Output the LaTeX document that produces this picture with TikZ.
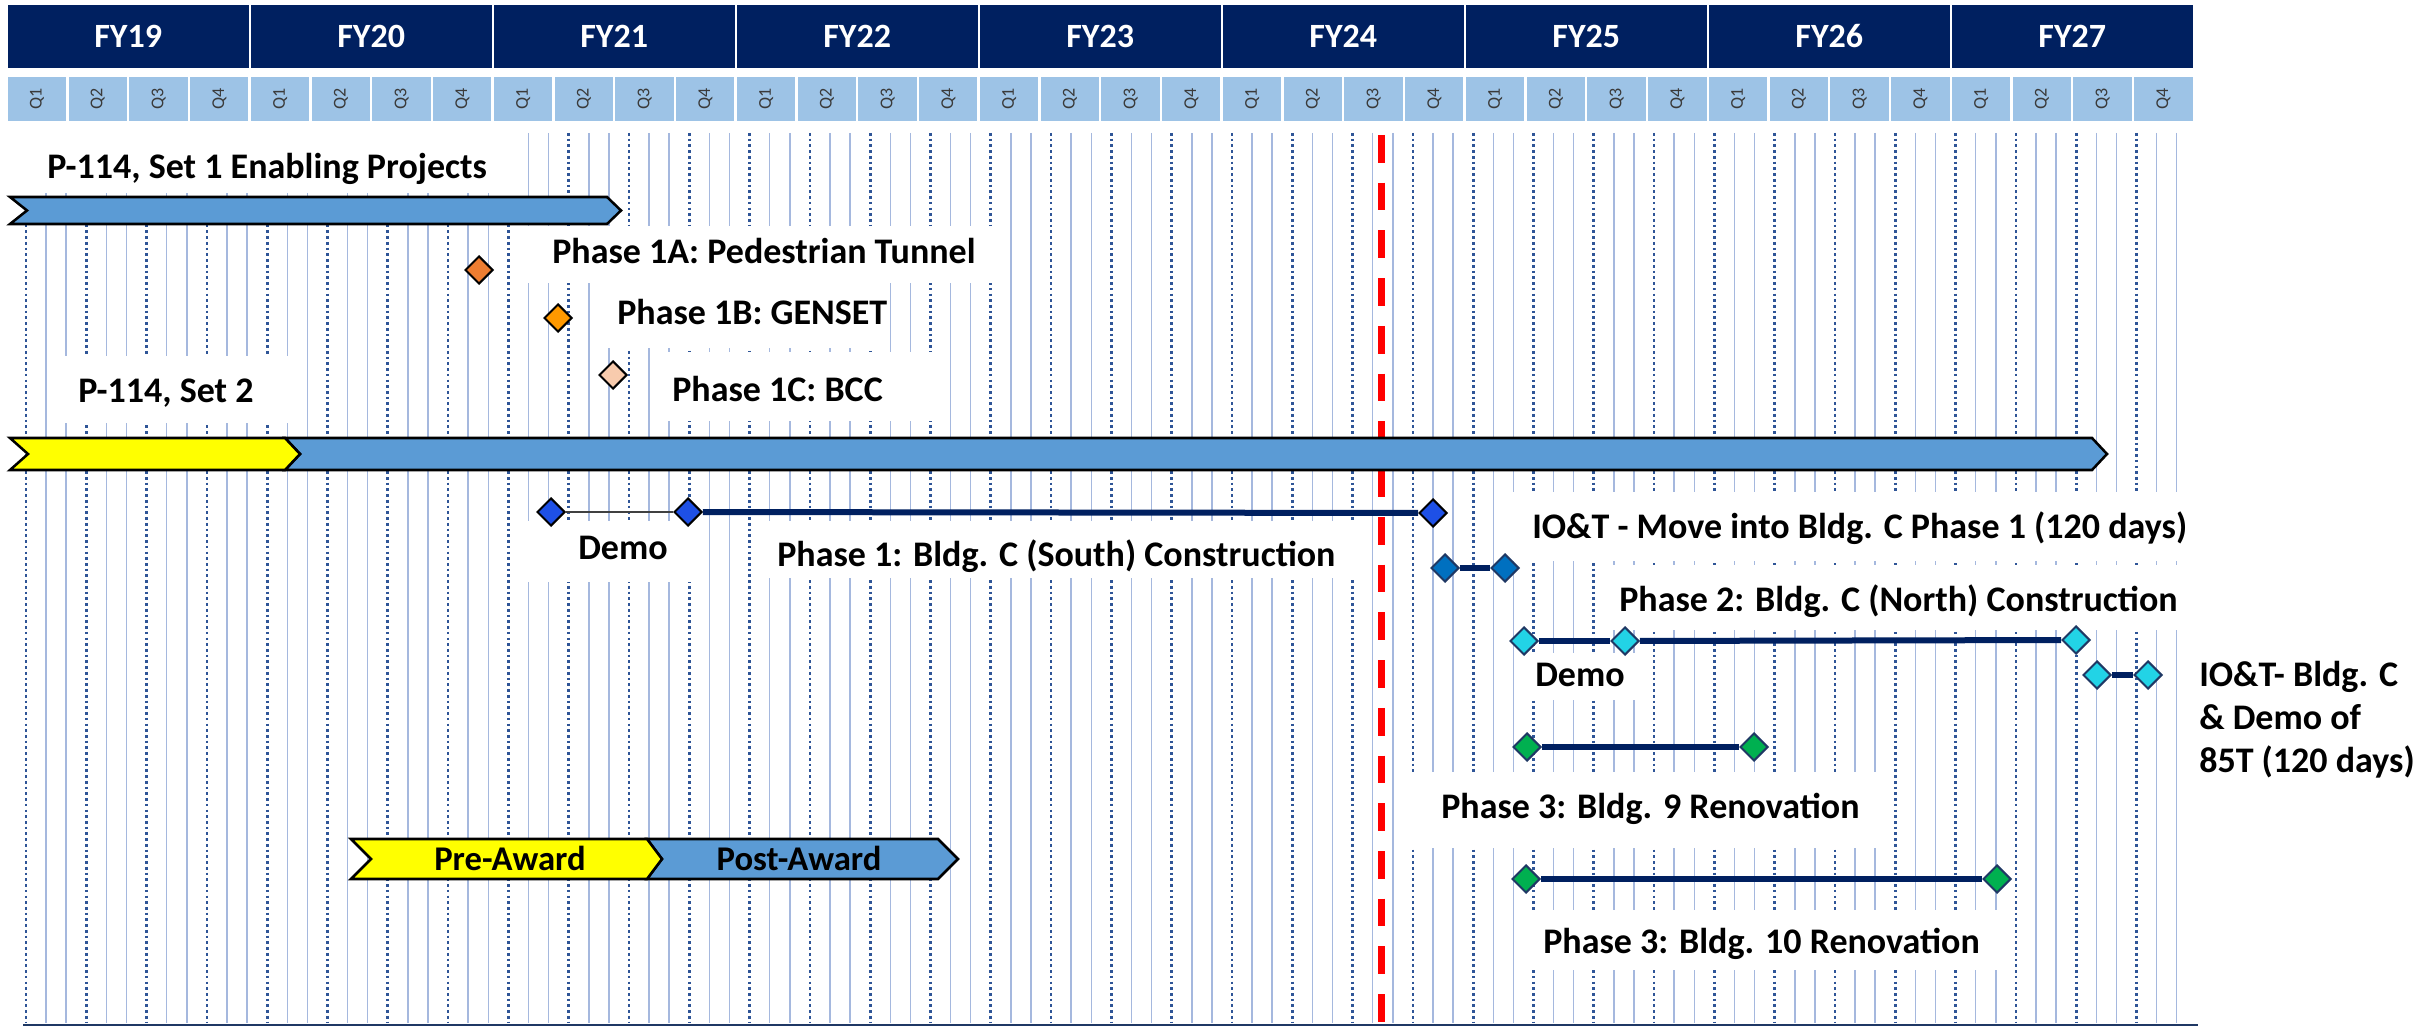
\documentclass[tikz,border=0pt]{standalone}
\usepackage{fontspec}
\setmainfont{Carlito}
\usetikzlibrary{shapes.geometric}

\definecolor{fyNavy}{RGB}{0,32,96}
\definecolor{qBlue}{RGB}{157,195,230}
\definecolor{qText}{RGB}{58,58,58}
\definecolor{gridSolid}{RGB}{165,184,222}
\definecolor{gridDot}{RGB}{47,85,151}
\definecolor{barBlue}{RGB}{91,155,213}
\definecolor{barYellow}{RGB}{255,255,0}
\definecolor{linkNavy}{RGB}{0,32,96}
\definecolor{linkGray}{RGB}{64,64,64}
\definecolor{todayRed}{RGB}{255,0,0}
\definecolor{msOrange}{RGB}{237,125,49}
\definecolor{msAmber}{RGB}{255,153,0}
\definecolor{msPeach}{RGB}{248,203,173}
\definecolor{msRoyal}{RGB}{30,80,230}
\definecolor{msMid}{RGB}{0,112,192}
\definecolor{msCyan}{RGB}{34,211,230}
\definecolor{msGreen}{RGB}{0,176,80}
\definecolor{msEdge}{RGB}{31,56,100}
\definecolor{baseNavy}{RGB}{31,56,100}

\begin{document}
\begin{tikzpicture}[x=0.75pt,y=-0.75pt,
  fycell/.style={rectangle, fill=fyNavy, inner sep=0, minimum width=180.4pt, minimum height=47.25pt,
    text=white, font=\fontsize{25.5}{30}\selectfont\bfseries},
  qcell/.style={rectangle, fill=qBlue, inner sep=0, rotate=90, minimum width=33pt, minimum height=43.7pt,
    text=qText, font=\fontsize{13.5}{16}\selectfont},
  gridline/.style={draw=gridSolid, line width=1.1pt},
  griddots/.style={draw=gridDot, line width=2pt, dash pattern=on 2pt off 2.3pt},
  labelbg/.style={fill=white},
  lbl/.style={anchor=west, inner sep=0, font=\fontsize{27}{32}\selectfont\bfseries,
    text height=17.4pt, text depth=0pt},
  barlbl/.style={anchor=center, inner sep=0, font=\fontsize{26}{31}\selectfont\bfseries,
    text height=16.7pt, text depth=0pt},
  chevron/.style={draw=black, line width=1.9pt, line join=miter},
  ms/.style={diamond, draw=black, line width=1.5pt, inner sep=0, minimum width=21pt, minimum height=21pt},
  msn/.style={ms, draw=msEdge},
  link/.style={draw=linkNavy, line width=4.5pt},
  thinlink/.style={draw=linkGray, line width=1.5pt},
  today/.style={draw=todayRed, line width=5.25pt, dash pattern=on 20.8pt off 15pt}
]
\useasboundingbox (0,0) rectangle (2425,1027);

% fiscal-year header
\foreach \i/\lab in {0/FY19,1/FY20,2/FY21,3/FY22,4/FY23,5/FY24,6/FY25,7/FY26,8/FY27} {
  \node[fycell] (fy\i) at ({8+243*\i+120.25},36.5) {\lab};
}
% quarter header
\foreach \j in {0,...,35} {
  \pgfmathtruncatemacro\qn{mod(\j,4)+1}
  \node[qcell] (q\j) at ({8+60.75*\j+29.1},99) {Q\qn};
}

% monthly grid: every third line dotted
\foreach \m in {0,...,107} {
  \pgfmathsetmacro\gx{26+20.1*\m}
  \pgfmathtruncatemacro\r{mod(\m,3)}
  \ifnum\r=0
    \draw[griddots] (\gx,133) -- (\gx,1023);
  \else
    \draw[gridline] (\gx,133) -- (\gx,1023);
  \fi
}

% white backgrounds of the text boxes
\fill[labelbg] (0,131) rectangle (522,193);
\fill[labelbg] (520,226) rectangle (1000,283);
\fill[labelbg] (600,283) rectangle (880,348);
\fill[labelbg] (660,352) rectangle (932,421);
\fill[labelbg] (56,356) rectangle (296,423);
\fill[labelbg] (520,521) rectangle (702,582);
\fill[labelbg] (765,521) rectangle (1362,578);
\fill[labelbg] (1500,492) rectangle (2190,561);
\fill[labelbg] (1602,565) rectangle (2190,630);
\fill[labelbg] (1525,653) rectangle (1645,700);
\fill[labelbg] (1395,772) rectangle (1885,848);
\fill[labelbg] (1520,910) rectangle (2008,970);

% status date
\coordinate (todayTop) at (1381,135);
\coordinate (todayBot) at (1381,1027);
\draw[today] (todayTop) -- (todayBot);

% P-114, Set 1
\filldraw[chevron, fill=barBlue] (10,197) -- (607,197) -- (621,210.5) -- (607,224) -- (10,224) -- (27,210.5) -- cycle;
% P-114, Set 2
\filldraw[chevron, fill=barBlue] (285,438) -- (2092,438) -- (2107,454) -- (2092,470) -- (285,470) -- (300,454) -- cycle;
\filldraw[chevron, fill=barYellow] (10,438) -- (285,438) -- (300,454) -- (285,470) -- (10,470) -- (28,454) -- cycle;
% award phases
\filldraw[chevron, fill=barBlue] (647,839) -- (938,839) -- (958,859) -- (938,879) -- (647,879) -- (662,859) -- cycle;
\filldraw[chevron, fill=barYellow] (351,839) -- (647,839) -- (662,859) -- (647,879) -- (351,879) -- (371,859) -- cycle;
\node[barlbl] (pre) at (510,859) {Pre-Award};
\node[barlbl] (post) at (799,859) {Post-Award};

% milestones
\node[ms, fill=msOrange] (m1a) at (479,270) {};
\node[ms, fill=msAmber] (m1b) at (558,318) {};
\node[ms, fill=msPeach] (m1c) at (613,375) {};

\node[ms, fill=msRoyal] (dA) at (551,512) {};
\node[ms, fill=msRoyal] (dB) at (688,512) {};
\node[ms, fill=msRoyal] (dC) at (1433,513) {};
\draw[thinlink] (dA) -- (dB);
\draw[link] (dB) -- (dC);

\node[msn, fill=msMid] (mvA) at (1445,568) {};
\node[msn, fill=msMid] (mvB) at (1505,568) {};
\draw[link] (mvA) -- (mvB);

\node[msn, fill=msCyan] (p2A) at (1524,641) {};
\node[msn, fill=msCyan] (p2B) at (1625,641) {};
\node[msn, fill=msCyan] (p2C) at (2076,640) {};
\draw[link] (p2A) -- (p2B);
\draw[link] (p2B) -- (p2C);

\node[msn, fill=msCyan] (ioA) at (2097,675) {};
\node[msn, fill=msCyan] (ioB) at (2148,675) {};
\draw[link] (ioA) -- (ioB);

\node[msn, fill=msGreen] (b9A) at (1527,747) {};
\node[msn, fill=msGreen] (b9B) at (1754,747) {};
\draw[link] (b9A) -- (b9B);

\node[msn, fill=msGreen] (b10A) at (1526,879) {};
\node[msn, fill=msGreen] (b10B) at (1997,879) {};
\draw[link] (b10A) -- (b10B);

% labels
\node[lbl] (tSet1) at (47,167) {P-114, Set 1 Enabling Projects};
\node[lbl] (t1a) at (552,252) {Phase 1A: Pedestrian Tunnel};
\node[lbl] (t1b) at (617,313) {Phase 1B: GENSET};
\node[lbl] (t1c) at (672,390) {Phase 1C: BCC};
\node[lbl] (tSet2) at (78,391) {P-114, Set 2};
\node[lbl] (tDemo1) at (578,548) {Demo};
\node[lbl] (tP1) at (777,555) {Phase 1: Bldg. C (South) Construction};
\node[lbl] (tMove) at (1532,527) {IO\&T - Move into Bldg. C Phase 1 (120 days)};
\node[lbl] (tP2) at (1619,600) {Phase 2: Bldg. C (North) Construction};
\node[lbl] (tDemo2) at (1535,675) {Demo};
\node[lbl] (tIO1) at (2199,675) {IO\&T- Bldg. C};
\node[lbl] (tIO2) at (2199,718) {\& Demo of};
\node[lbl] (tIO3) at (2199,761) {85T (120 days)};
\node[lbl] (tB9) at (1441,807) {Phase 3: Bldg. 9 Renovation};
\node[lbl] (tB10) at (1543,942) {Phase 3: Bldg. 10 Renovation};

% base line
\coordinate (baseL) at (23,1025);
\coordinate (baseR) at (2198,1025);
\draw[draw=baseNavy, line width=2.2pt] (baseL) -- (baseR);
\end{tikzpicture}
\end{document}
